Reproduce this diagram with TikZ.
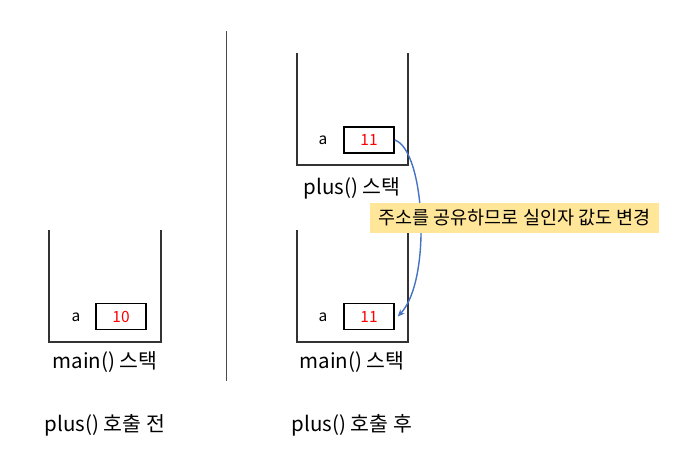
\documentclass[tikz,border=0pt]{standalone}
\usepackage{fontspec}
\setmainfont{Noto Sans CJK KR}
\usepackage{xcolor}
\usetikzlibrary{arrows.meta, positioning, calc}
\definecolor{notebg}{HTML}{FFE699}
\definecolor{linkblue}{HTML}{4472C4}

\begin{document}
\begin{tikzpicture}[
					x=1pt, y=-1pt,
					stackline/.style={draw=black!80, line width=1.5pt},
					cell/.style={rectangle, draw=black, line width=1.5pt, minimum width=50pt, minimum height=26pt,
						inner sep=0pt, font=\fontsize{15.5}{15.5}\selectfont, text=red},
					varname/.style={font=\fontsize{15.5}{15.5}\selectfont},
					caption/.style={font=\fontsize{20.5}{20.5}\selectfont},
					note/.style={rectangle, fill=notebg, minimum width=289pt, minimum height=30pt,
						inner sep=0pt, font=\fontsize{18.5}{18.5}\selectfont},
					link/.style={-{Stealth[length=7pt, width=6pt]}, draw=linkblue, line width=1.4pt}
					]
					\useasboundingbox (0,0) rectangle (680,469);
					
					% --- Left: before the call ---
					\draw[stackline] (49,230) -- (49,342) -- (161,342) -- (161,230);
					\node[cell] (mainA) at (121,316.5) {10};
					\node[varname] (mainAname) at (76,317) {a};
					\node[caption] (mainLbl) at (105,362) {main() 스택};
					\node[caption] (beforeLbl) at (105,425) {plus() 호출 전};
					
					% --- Divider ---
					\draw[black!70, line width=0.8pt] (226,31) -- (226,381);
					
					% --- Right: after the call ---
					\draw[stackline] (297,53) -- (297,165) -- (408,165) -- (408,53);
					\node[cell] (plusA) at (369,140) {11};
					\node[varname] (plusAname) at (323,140) {a};
					\node[caption] (plusLbl) at (352,188) {plus() 스택};
					
					\draw[stackline] (297,230) -- (297,342) -- (408,342) -- (408,230);
					\node[cell] (mainB) at (369,316.5) {11};
					\node[varname] (mainBname) at (323,317) {a};
					\node[caption] (mainLbl2) at (352,362) {main() 스택};
					\node[caption] (afterLbl) at (352,425) {plus() 호출 후};
					
					% --- Shared address ---
					\draw[link] (plusA.east) .. controls (425,150) and (432,280) .. ([xshift=3pt]mainB.east);
					\node[note] (shareNote) at (514.5,218) {주소를 공유하므로 실인자 값도 변경};
				\end{tikzpicture}
\end{document}
